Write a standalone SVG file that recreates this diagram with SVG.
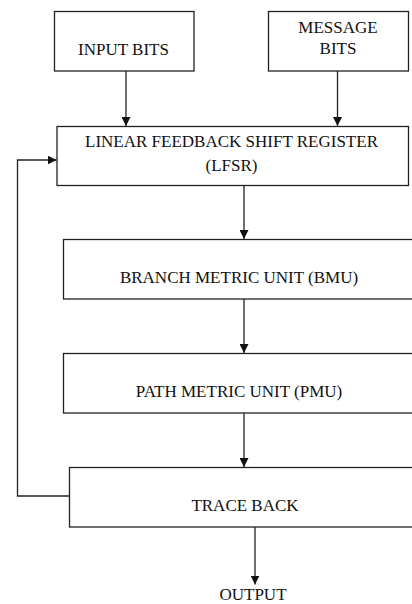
<svg xmlns="http://www.w3.org/2000/svg" width="412" height="604" viewBox="0 0 412 604">
<defs>
<marker id="ah" markerWidth="9" markerHeight="9" refX="9" refY="4.5" orient="auto" markerUnits="userSpaceOnUse">
<path d="M0,0 L9,4.5 L0,9 Z" fill="#111"/>
</marker>
<style>
.box{fill:#fff;stroke:#222;stroke-width:1.3}
.lbl{font-family:"Liberation Serif","Times New Roman",serif;font-size:17px;fill:#111;text-anchor:middle}
.con{fill:none;stroke:#222;stroke-width:1.3}
</style>
</defs>
<rect width="412" height="604" fill="#fff"/>
<g id="input">
<rect class="box" x="54.5" y="11.5" width="139.5" height="59.5"/>
<text class="lbl" x="123.5" y="55">INPUT BITS</text>
</g>
<g id="message">
<rect class="box" x="268.5" y="11.5" width="140" height="59.5"/>
<text class="lbl" x="338" y="32.5">MESSAGE</text>
<text class="lbl" x="338" y="54">BITS</text>
</g>
<g id="lfsr">
<rect class="box" x="57" y="126.5" width="351.5" height="59"/>
<text class="lbl" x="231.5" y="147">LINEAR FEEDBACK SHIFT REGISTER</text>
<text class="lbl" x="231.5" y="171">(LFSR)</text>
</g>
<g id="bmu">
<rect class="box" x="63.5" y="239.5" width="360" height="59.5"/>
<text class="lbl" x="239" y="283">BRANCH METRIC UNIT (BMU)</text>
</g>
<g id="pmu">
<rect class="box" x="63.5" y="353.5" width="360" height="59.5"/>
<text class="lbl" x="239" y="396.5">PATH METRIC UNIT (PMU)</text>
</g>
<g id="traceback">
<rect class="box" x="69.5" y="467.5" width="354" height="59.5"/>
<text class="lbl" x="245" y="511">TRACE BACK</text>
</g>
<g id="output">
<text class="lbl" x="253" y="599.5">OUTPUT</text>
</g>
<g id="connectors">
<line class="con" x1="126" y1="71" x2="126" y2="126" marker-end="url(#ah)"/>
<line class="con" x1="337.5" y1="71" x2="337.5" y2="126" marker-end="url(#ah)"/>
<line class="con" x1="244" y1="185.5" x2="244" y2="239" marker-end="url(#ah)"/>
<line class="con" x1="244" y1="299" x2="244" y2="353" marker-end="url(#ah)"/>
<line class="con" x1="244" y1="413" x2="244" y2="467" marker-end="url(#ah)"/>
<line class="con" x1="255" y1="527" x2="255" y2="584.5" marker-end="url(#ah)"/>
<polyline class="con" points="69.5,496 17.5,496 17.5,160 56.5,160" marker-end="url(#ah)"/>
</g>
</svg>
